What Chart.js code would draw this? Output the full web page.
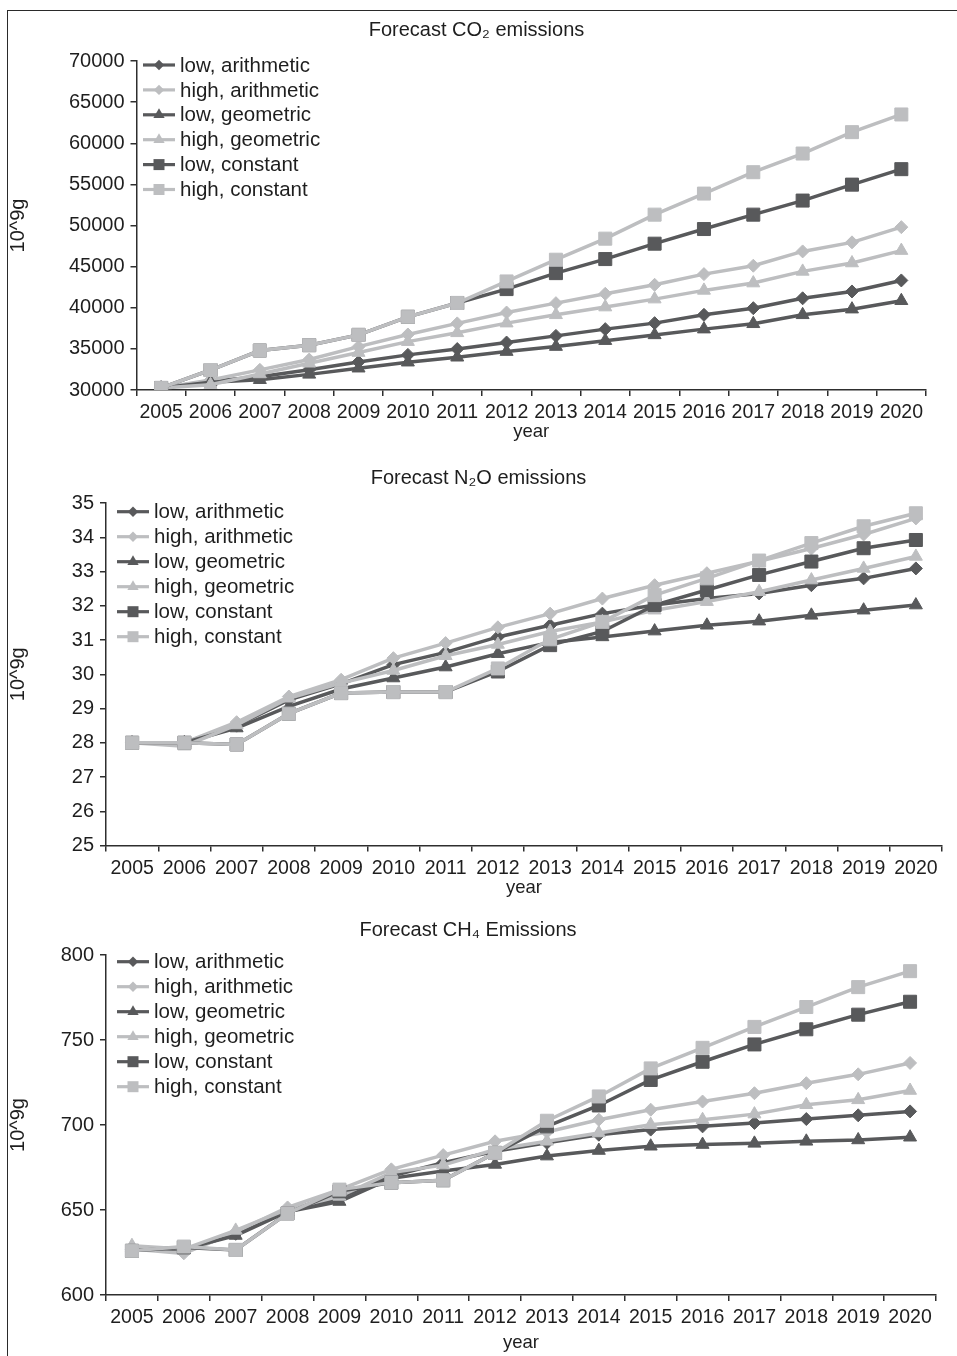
<!DOCTYPE html>
<html><head><meta charset="utf-8">
<script src="https://cdn.jsdelivr.net/npm/chart.js@4.4.1/dist/chart.umd.min.js"></script>
<style>
html,body{margin:0;padding:0;background:#fff;}
#page{position:relative;width:957px;height:1356px;overflow:hidden;background:#fff;}
#frame{position:absolute;left:7px;top:10px;width:960px;height:1360px;border-left:1.5px solid #2a2a2a;border-top:1.5px solid #2a2a2a;}
canvas{position:absolute;left:0;}
</style></head><body>
<div id="page">
<div id="frame"></div>
<canvas id="c1" style="top:12px"></canvas>
<canvas id="c2" style="top:455px"></canvas>
<canvas id="c3" style="top:905px"></canvas>
</div>
<script>
// ---------- data ----------
const years = ['2005','2006','2007','2008','2009','2010','2011','2012','2013','2014','2015','2016','2017','2018','2019','2020'];
const seriesNames = ['low, arithmetic','high, arithmetic','low, geometric','high, geometric','low, constant','high, constant'];

const co2LowArith  = [30250,31050,31600,32450,33400,34270,34980,35770,36580,37400,38130,39140,39950,41150,41980,43320];
const co2HighArith = [30250,31220,32450,33700,35270,36750,38100,39420,40560,41700,42790,44090,45110,46850,47950,49800];
const co2LowGeom   = [30250,30950,31250,31900,32650,33380,33980,34670,35280,36000,36700,37400,38050,39140,39830,40850];
const co2HighGeom  = [30250,30650,31950,33250,34550,35880,36950,38130,39140,40080,41050,42110,43000,44420,45440,46950];
const co2LowConst  = [30250,32430,34800,35450,36700,38900,40580,42270,44210,45920,47790,49570,51320,53030,54970,56850];
const co2HighConst = [30250,32430,34800,35450,36700,38900,40580,43200,45840,48400,51320,53880,56480,58750,61350,63500];

const n2oLowArith  = [28.0,28.0,28.5,29.25,29.72,30.28,30.64,31.09,31.43,31.77,32.02,32.21,32.36,32.6,32.8,33.09];
const n2oHighArith = [28.0,28.0,28.6,29.35,29.84,30.47,30.91,31.37,31.77,32.21,32.6,32.95,33.3,33.67,34.08,34.55];
const n2oLowGeom   = [28.0,28.0,28.43,29.06,29.57,29.89,30.21,30.6,30.93,31.09,31.26,31.43,31.55,31.72,31.87,32.02];
const n2oHighGeom  = [28.0,27.9,28.52,29.3,29.74,30.11,30.54,30.87,31.25,31.53,31.87,32.12,32.41,32.75,33.09,33.44];
const n2oLowConst  = [28.0,28.0,27.95,28.85,29.45,29.48,29.48,30.08,30.85,31.25,32.02,32.46,32.9,33.29,33.68,33.92];
const n2oHighConst = [28.0,28.0,27.95,28.85,29.45,29.48,29.48,30.17,31.02,31.53,32.31,32.8,33.32,33.83,34.32,34.7];

const ch4LowArith  = [627,626,636,649.5,657,670,677.8,684.6,689.5,694.3,697.3,699.2,701.2,703.5,705.7,708];
const ch4HighArith = [627,624.5,637,651.5,662,673.9,682.3,690.4,695.9,703.1,709,713.8,718.7,724.6,729.8,736.5];
const ch4LowGeom   = [628,627,635,649,655,668.6,672.9,676.8,681.7,685,687.5,688.5,689.2,690.4,691.2,692.8];
const ch4HighGeom  = [629,627,638,650.5,658,672,676.4,685.6,690.4,695.3,700.2,703.1,706.4,711.9,714.8,720.3];
const ch4LowConst  = [626,628,626.5,648,661,666.1,667.5,683.6,699.2,711.5,726.5,737.2,747.4,756.3,764.9,772.5];
const ch4HighConst = [626,628.5,626.5,648,662,666.1,667.5,683.6,702.5,716.8,733.3,745.4,757.7,769.4,781.1,790.5];

const co2Ticks = {min:30000, max:70000, step:5000};
const n2oTicks = {min:25, max:35, step:1};
const ch4Ticks = {min:600, max:800, step:50};

// ---------- styles ----------
const FONT = '"Liberation Sans", Arial, Helvetica, sans-serif';
const DARK = '#58595b';
const LIGHT = '#bdbec0';
const AX = '#2e2e2e';
const TXT = '#1e1e1e';
const seriesStyle = [
  {color:DARK,  shape:'rectRot',  r:6.5},
  {color:LIGHT, shape:'rectRot',  r:6.5},
  {color:DARK,  shape:'triangle', r:7.5},
  {color:LIGHT, shape:'triangle', r:7.5},
  {color:DARK,  shape:'rect',     r:9.2},
  {color:LIGHT, shape:'rect',     r:9.2}
];

function drawMarker(ctx, shape, x, y, s){
  ctx.beginPath();
  if (shape === 'rectRot'){
    ctx.moveTo(x, y - s); ctx.lineTo(x + s, y); ctx.lineTo(x, y + s); ctx.lineTo(x - s, y); ctx.closePath();
  } else if (shape === 'triangle'){
    const h = s;
    ctx.moveTo(x, y - h); ctx.lineTo(x + h*0.866, y + h*0.5); ctx.lineTo(x - h*0.866, y + h*0.5); ctx.closePath();
  } else {
    ctx.rect(x - s, y - s, 2*s, 2*s);
  }
  ctx.fill();
}

const insideLegend = {
  id:'insideLegend',
  afterDraw(chart, args, o){
    const ctx = chart.ctx;
    ctx.save();
    chart.data.datasets.forEach((ds, i) => {
      const st = seriesStyle[i];
      const y = o.y + i*o.step;
      ctx.strokeStyle = st.color; ctx.fillStyle = st.color; ctx.lineWidth = 3.2;
      ctx.beginPath(); ctx.moveTo(o.x, y); ctx.lineTo(o.x + o.len, y); ctx.stroke();
      const ms = st.shape === 'rect' ? 5.5 : (st.shape === 'triangle' ? 6.5 : 5.2);
      drawMarker(ctx, st.shape, o.x + o.len/2, y, ms);
      ctx.fillStyle = TXT;
      ctx.font = '20.5px ' + FONT;
      ctx.textBaseline = 'middle';
      ctx.textAlign = 'left';
      ctx.fillText(ds.label, o.tx, y + 1);
    });
    ctx.restore();
  }
};

function makeChart(id, title, seriesData, tk, L){
  const cv = document.getElementById(id);
  cv.width = 957; cv.height = L.H;
  cv.style.width = '957px'; cv.style.height = L.H + 'px';
  const datasets = seriesData.map((d, i) => ({
    label: seriesNames[i],
    data: d,
    yAxisID: 'y',
    borderColor: seriesStyle[i].color,
    backgroundColor: seriesStyle[i].color,
    pointBackgroundColor: seriesStyle[i].color,
    pointBorderColor: seriesStyle[i].color,
    pointBorderWidth: 1,
    pointStyle: seriesStyle[i].shape,
    pointRadius: seriesStyle[i].r,
    borderWidth: 3.5,
    tension: 0,
    fill: false,
    order: 10 - i
  }));
  const dummyW = L.padRight - L.outerPad;
  return new Chart(cv, {
    type:'line',
    data:{labels: years, datasets},
    options:{
      responsive:false, animation:false, devicePixelRatio:1,
      layout:{padding:{left:0, right:L.outerPad, top:0, bottom:0}},
      plugins:{
        legend:{display:false},
        tooltip:{enabled:false},
        title:{display:true, text:title, color:TXT, font:{family:FONT, size:20, weight:'normal', lineHeight:1.2},
               padding:{top:L.titleTop, bottom:L.titleBottom}},
        insideLegend: L.legend
      },
      scales:{
        x:{
          type:'category', offset:true,
          grid:{offset:true, drawOnChartArea:false, drawTicks:true, tickLength:6, color:AX, lineWidth:1.5},
          border:{display:true, color:AX, width:1.5},
          ticks:{font:{family:FONT, size:19.5}, color:TXT, padding:5, maxRotation:0, autoSkip:false},
          title:{display:true, text:'year', color:TXT, font:{family:FONT, size:18.5, lineHeight:1.2}, padding:{top:0, bottom:0}},
          afterFit: s => { s.height = L.xAxisH; }
        },
        y:{
          position:'left',
          min:tk.min, max:tk.max,
          grid:{drawOnChartArea:false, drawTicks:true, tickLength:6, color:AX, lineWidth:1.5},
          border:{display:true, color:AX, width:1.5},
          ticks:{stepSize:tk.step, font:{family:FONT, size:20}, color:TXT, padding:6, callback: v => String(v)},
          title:{display:true, text:'10^9g', color:TXT, font:{family:FONT, size:20, lineHeight:1.2}, padding:{top:6, bottom:0}},
          afterFit: s => { s.width = L.yAxisW; }
        },
        yPad:{
          type:'linear', position:'right', display: dummyW > 0,
          grid:{display:false, drawTicks:false}, border:{display:false},
          ticks:{display:false}, title:{display:false},
          afterFit: s => { s.width = dummyW; }
        }
      }
    },
    plugins:[insideLegend]
  });
}

makeChart('c1', 'Forecast CO\u2082 emissions',
  [co2LowArith, co2HighArith, co2LowGeom, co2HighGeom, co2LowConst, co2HighConst], co2Ticks,
  {H:431, yAxisW:136.5, padRight:31, outerPad:4, titleTop:6, titleBottom:19, xAxisH:53,
   legend:{x:143, len:32, tx:180, y:53, step:24.9}});

makeChart('c2', 'Forecast N\u2082O emissions',
  [n2oLowArith, n2oHighArith, n2oLowGeom, n2oHighGeom, n2oLowConst, n2oHighConst], n2oTicks,
  {H:444, yAxisW:106, padRight:15, outerPad:0, titleTop:11, titleBottom:13, xAxisH:53.5,
   legend:{x:117, len:32, tx:154, y:56.7, step:25}});

makeChart('c3', 'Forecast CH\u2084 Emissions',
  [ch4LowArith, ch4HighArith, ch4LowGeom, ch4HighGeom, ch4LowConst, ch4HighConst], ch4Ticks,
  {H:449, yAxisW:106, padRight:21, outerPad:21, titleTop:13, titleBottom:13, xAxisH:59,
   legend:{x:117, len:32, tx:154, y:56.7, step:25}});
</script>
</body></html>
